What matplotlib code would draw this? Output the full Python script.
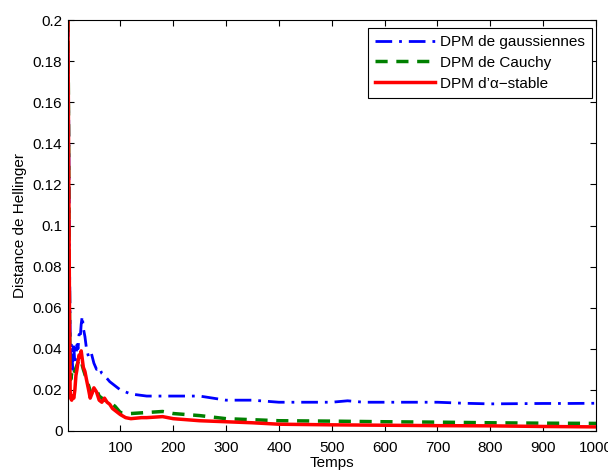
import matplotlib
matplotlib.use('Agg')
import matplotlib.pyplot as plt

# Valeurs (temps, distance de Hellinger)
t_gauss = [1, 2, 3, 4, 5, 6, 7, 8, 10, 12, 14, 16, 18, 20, 22, 24, 26, 28, 30, 33, 36,
           40, 45, 50, 55, 60, 65, 70, 80, 90, 100, 120, 150, 180, 200, 250, 300, 350,
           400, 450, 500, 530, 560, 600, 650, 700, 750, 800, 850, 900, 950, 1000]
h_gauss = [0.2, 0.17, 0.12, 0.08, 0.05, 0.035, 0.043, 0.04, 0.03, 0.041, 0.033, 0.036,
           0.042, 0.04, 0.047, 0.045, 0.052, 0.056, 0.05, 0.046, 0.04, 0.036, 0.038,
           0.033, 0.03, 0.031, 0.028, 0.027, 0.024, 0.022, 0.020, 0.018, 0.017, 0.017,
           0.017, 0.017, 0.015, 0.015, 0.014, 0.014, 0.014, 0.0147, 0.014, 0.014,
           0.014, 0.014, 0.0135, 0.0132, 0.0133, 0.0134, 0.0134, 0.0135]

t_cauchy = [1, 2, 3, 4, 5, 6, 8, 10, 12, 15, 18, 22, 26, 30, 35, 40, 45, 50, 55, 60,
            65, 70, 80, 90, 100, 120, 150, 180, 200, 250, 300, 350, 400, 500, 600,
            700, 800, 900, 1000]
h_cauchy = [0.2, 0.15, 0.09, 0.05, 0.03, 0.025, 0.028, 0.03, 0.028, 0.03, 0.032,
            0.035, 0.034, 0.03, 0.026, 0.022, 0.018, 0.02, 0.02, 0.017, 0.016, 0.015,
            0.014, 0.012, 0.009, 0.0085, 0.009, 0.0095, 0.0085, 0.0075, 0.006,
            0.0055, 0.005, 0.0048, 0.0045, 0.0043, 0.004, 0.0038, 0.0037]

t_alpha = [1, 2, 3, 4, 5, 6, 8, 10, 12, 14, 16, 18, 20, 22, 24, 26, 28, 30, 33, 36,
           40, 43, 46, 50, 55, 60, 65, 70, 75, 80, 85, 90, 100, 110, 120, 140, 150,
           180, 200, 250, 300, 350, 400, 500, 600, 700, 800, 900, 1000]
h_alpha = [0.2, 0.14, 0.1, 0.05, 0.02, 0.016, 0.015, 0.017, 0.016, 0.02, 0.027,
           0.03, 0.034, 0.037, 0.036, 0.039, 0.035, 0.031, 0.029, 0.025, 0.02, 0.016,
           0.018, 0.021, 0.019, 0.015, 0.014, 0.016, 0.014, 0.013, 0.011, 0.01,
           0.008, 0.0065, 0.006, 0.0065, 0.0065, 0.007, 0.006, 0.005, 0.0045, 0.004,
           0.0033, 0.003, 0.0028, 0.0026, 0.0025, 0.0022, 0.002]

labels = ['DPM de gaussiennes', 'DPM de Cauchy', "DPM d\u2019\u03b1\u2212stable"]

plt.rcParams['font.family'] = ['Liberation Sans', 'DejaVu Sans']
plt.rcParams['font.size'] = 11

fig = plt.figure(figsize=(6.08, 4.70), dpi=100)
ax = fig.add_axes([68 / 608, 1 - 431 / 470, (596 - 68) / 608, (431 - 20) / 470])

ax.plot(t_gauss, h_gauss, color='blue', lw=2, linestyle=(0, (6, 2.5, 1, 2.5)),
        label=labels[0])
ax.plot(t_cauchy, h_cauchy, color='#008000', lw=2.5, linestyle=(0, (3.5, 2.5)),
        label=labels[1])
ax.plot(t_alpha, h_alpha, color='red', lw=2.5, label=labels[2])

ax.set_xlim(1, 1000)
ax.set_ylim(0, 0.2)
ax.set_xticks(range(100, 1001, 100))
yt = [i * 0.02 for i in range(11)]
ax.set_yticks(yt)
ax.set_yticklabels(['0'] + ['%g' % round(v, 2) for v in yt[1:]])
ax.tick_params(direction='in', top=True, right=True, length=4, labelsize=11)
ax.tick_params(axis='y', pad=4)
ax.tick_params(axis='x', pad=7)
ax.set_xlabel('Temps', fontsize=11, labelpad=1)
ax.set_ylabel('Distance de Hellinger', fontsize=11, labelpad=4)

leg = ax.legend(loc='upper right', bbox_to_anchor=(592 / 608, 1 - 28 / 470),
                bbox_transform=fig.transFigure, fontsize=11, fancybox=False,
                framealpha=1, edgecolor='black', handlelength=3.9,
                borderaxespad=0, labelspacing=0.45, borderpad=0.45,
                handletextpad=0.35)
leg.get_frame().set_linewidth(0.8)

fig.savefig('out.png', dpi=100)
